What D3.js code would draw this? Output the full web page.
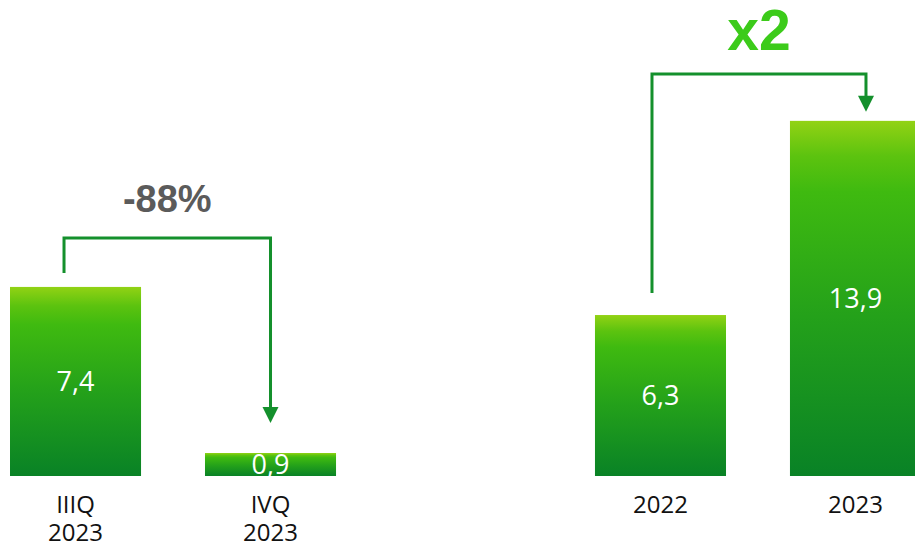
<!DOCTYPE html>
<html>
<head>
<meta charset="utf-8">
<script src="https://cdn.jsdelivr.net/npm/d3@7"></script>
<style>
  body { margin: 0; background: #fff; }
  svg { display: block; }
</style>
</head>
<body>
<script>
// define constants
const svgWidth = 915;
const svgHeight = 545;
const baseY = 476;

// data
const categories = ['IIIQ 2023', 'IVQ 2023', 'spacer', '2022', '2023'];
const barCategories = ['IIIQ 2023', 'IVQ 2023', '2022', '2023'];
const barValues = [7.4, 0.9, 6.3, 13.9];
const valueLabels = ['7,4', '0,9', '6,3', '13,9'];
const tickLabels = [['IIIQ', '2023'], ['IVQ', '2023'], ['2022'], ['2023']];
const changeLabels = ['-88%', 'x2'];

const bars = barCategories.map((c, i) => ({cat: c, value: barValues[i], label: valueLabels[i], tick: tickLabels[i]}));

const svg = d3.select('body')
              .append('svg')
              .attr('width', svgWidth)
              .attr('height', svgHeight);

// gradient for the bars
const grad = svg.append('defs')
                .append('linearGradient')
                .attr('id', 'barGrad')
                .attr('x1', 0).attr('y1', 0)
                .attr('x2', 0).attr('y2', 1);
[[0, '#92d214'], [0.1, '#5cc30f'], [0.2, '#3fba10'], [0.55, '#24a11a'], [1, '#098226']]
  .forEach(s => grad.append('stop').attr('offset', s[0]).attr('stop-color', s[1]));

// scales
const xScale = d3.scaleBand()
                 .domain(categories)
                 .range([10, 921])
                 .paddingInner(0.328)
                 .paddingOuter(0);

const yScale = d3.scaleLinear()
                 .domain([0, 14])
                 .range([baseY, baseY - 14 * 25.55]);

const cx = c => xScale(c) + xScale.bandwidth() / 2;

// bars
svg.selectAll('rect.bar')
   .data(bars)
   .enter()
   .append('rect')
   .attr('class', 'bar')
   .attr('x', d => xScale(d.cat))
   .attr('y', d => yScale(d.value))
   .attr('width', xScale.bandwidth())
   .attr('height', d => yScale(0) - yScale(d.value))
   .attr('fill', 'url(#barGrad)');

// value labels
svg.selectAll('text.value')
   .data(bars)
   .enter()
   .append('text')
   .attr('class', 'value')
   .attr('x', d => cx(d.cat))
   .attr('y', d => (yScale(d.value) + yScale(0)) / 2)
   .attr('dy', '0.35em')
   .attr('text-anchor', 'middle')
   .style('font-family', '"Open Sans", sans-serif')
   .style('font-size', '27px')
   .style('fill', '#fff')
   .text(d => d.label);

// category labels, one text per line
const tickLines = [];
bars.forEach(d => d.tick.forEach((t, i) => tickLines.push({t: t, x: cx(d.cat), line: i})));

svg.selectAll('text.tick')
   .data(tickLines)
   .enter()
   .append('text')
   .attr('class', 'tick')
   .attr('x', d => d.x)
   .attr('y', d => 513 + d.line * 28)
   .attr('text-anchor', 'middle')
   .style('font-family', '"Open Sans", sans-serif')
   .style('font-size', '24px')
   .style('fill', '#111')
   .text(d => d.t);

// change brackets
const brackets = [
  {from: 'IIIQ 2023', to: 'IVQ 2023', fromDx: -11.5, toDx: 0, topY: 238, startGap: 14, endGap: 30,
   label: changeLabels[0], color: '#5b5b5b', size: 38, labelDy: -26},
  {from: '2022', to: '2023', fromDx: -8.5, toDx: 10.5, topY: 74, startGap: 22, endGap: 9,
   label: changeLabels[1], color: '#3ccb1a', size: 57, labelDy: -24}
];

brackets.forEach(b => {
  const fromBar = bars.find(d => d.cat === b.from);
  const toBar = bars.find(d => d.cat === b.to);
  const x1 = cx(b.from) + b.fromDx;
  const x2 = cx(b.to) + b.toDx;
  const y1 = yScale(fromBar.value) - b.startGap;
  const tipY = yScale(toBar.value) - b.endGap;
  const headH = 16;

  svg.append('path')
     .attr('d', `M${x1},${y1} V${b.topY} H${x2} V${tipY - headH + 2}`)
     .attr('fill', 'none')
     .attr('stroke', '#14902c')
     .attr('stroke-width', 3);

  svg.append('path')
     .attr('d', `M${x2 - 8},${tipY - headH} L${x2 + 8},${tipY - headH} L${x2},${tipY} Z`)
     .attr('fill', '#14902c');

  svg.append('text')
     .attr('x', (x1 + x2) / 2)
     .attr('y', b.topY + b.labelDy)
     .attr('text-anchor', 'middle')
     .style('font-family', '"Liberation Sans", Arial, sans-serif')
     .style('font-weight', 'bold')
     .style('font-size', b.size + 'px')
     .style('fill', b.color)
     .text(b.label);
});
</script>
</body>
</html>
